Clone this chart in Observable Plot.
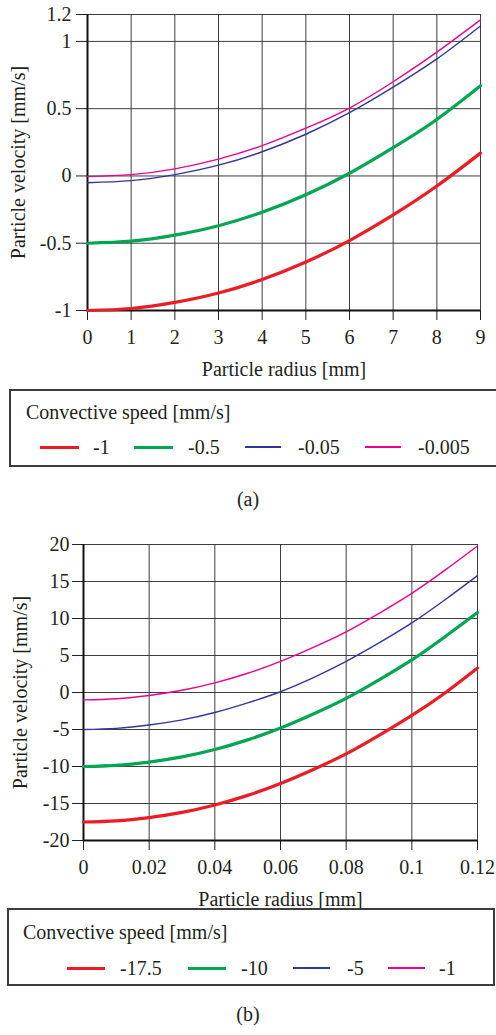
<!DOCTYPE html>
<html><head><meta charset="utf-8">
<script src="https://cdn.jsdelivr.net/npm/d3@7"></script>
<script src="https://cdn.jsdelivr.net/npm/@observablehq/plot@0.6"></script>
<style>
html,body{margin:0;padding:0;background:#fff;overflow:hidden;}
body{width:496px;height:1035px;position:relative;font-family:'Liberation Serif',serif;color:#231f20;}
.chart{position:absolute;left:0;}
.chart svg, .chart svg text{font-family:'Liberation Serif',serif !important;}
.legend{position:absolute;border:2px solid #3c3c3c;box-sizing:border-box;}
.t{position:absolute;font-family:'Liberation Serif',serif;font-size:20px;line-height:20px;white-space:nowrap;}
.sw{position:absolute;height:0;}
</style></head><body>
<script>
// ---------- data ----------
const legendTitle = "Convective speed [mm/s]";
const xLabel = "Particle radius [mm]";
const yLabel = "Particle velocity [mm/s]";

// panel (a)
const radiusA = [0, 1, 2, 3, 4, 5, 6, 7, 8, 9];
const seriesA = ["-1", "-0.5", "-0.05", "-0.005"];
const velA_1 = [-1, -0.985, -0.94, -0.87, -0.77, -0.64, -0.48, -0.29, -0.075, 0.17];
const velA_05 = [-0.5, -0.485, -0.44, -0.37, -0.27, -0.14, 0.02, 0.21, 0.42, 0.67];
const velA_005 = [-0.05, -0.035, 0.01, 0.08, 0.18, 0.31, 0.47, 0.66, 0.87, 1.115];
const velA_0005 = [-0.005, 0.01, 0.053, 0.125, 0.225, 0.355, 0.505, 0.70, 0.92, 1.16];
const xTicksA = [0, 1, 2, 3, 4, 5, 6, 7, 8, 9];
const yTicksA = [-1, -0.5, 0, 0.5, 1, 1.2];

// panel (b)
const radiusB = [0, 0.01, 0.02, 0.03, 0.04, 0.05, 0.06, 0.07, 0.08, 0.09, 0.1, 0.11, 0.12];
const seriesB = ["-17.5", "-10", "-5", "-1"];
const velB_175 = [-17.5, -17.35, -16.9, -16.2, -15.2, -13.9, -12.3, -10.4, -8.3, -5.8, -3.1, -0.1, 3.3];
const velB_10 = [-10, -9.85, -9.4, -8.7, -7.7, -6.4, -4.8, -2.9, -0.8, 1.7, 4.4, 7.5, 10.8];
const velB_5 = [-5, -4.85, -4.4, -3.7, -2.7, -1.4, 0.1, 2.0, 4.2, 6.7, 9.4, 12.5, 15.8];
const velB_1 = [-1, -0.85, -0.4, 0.3, 1.3, 2.6, 4.2, 6.1, 8.2, 10.7, 13.4, 16.5, 19.8];
const xTicksB = [0, 0.02, 0.04, 0.06, 0.08, 0.1, 0.12];
const yTicksB = [-20, -15, -10, -5, 0, 5, 10, 15, 20];

// ---------- styles ----------
const lineStyles = [
  {color: "#ed1c24", width: 3.2, legend: 3},
  {color: "#00a651", width: 3.2, legend: 3},
  {color: "#34359a", width: 1.4, legend: 2},
  {color: "#ec008c", width: 1.4, legend: 2}
];
const FONT = "'Liberation Serif', serif";
const fmt = d => String(d);

function makeChart(cfg) {
  const rows = cfg.series.flatMap((s, i) => cfg.xs.map((x, j) => ({series: s, x, y: cfg.values[i][j]})));
  const gridStyle = {stroke: "#2a2a2a", strokeOpacity: 0.9, strokeWidth: 1};
  const svg = Plot.plot({
    width: 496,
    height: cfg.height,
    marginTop: cfg.mt, marginBottom: cfg.mb, marginLeft: cfg.ml, marginRight: cfg.mr,
    style: {fontFamily: FONT, fontSize: "20px", color: "#231f20", background: "transparent"},
    x: {domain: cfg.xDomain},
    y: {domain: cfg.yDomain},
    marks: [
      Plot.gridX(cfg.xTicks, gridStyle),
      Plot.gridY(cfg.yTicks, gridStyle),
      Plot.axisX(cfg.xTicks, {tickSize: 10, tickPadding: 9, tickFormat: fmt, fontSize: 20,
        label: xLabel, labelAnchor: "center", labelArrow: "none", labelOffset: cfg.xLabelOffset}),
      Plot.axisY(cfg.yTicks, {tickSize: 11, tickPadding: cfg.yPad, tickFormat: fmt, fontSize: 20,
        label: yLabel, labelAnchor: "center", labelArrow: "none", labelOffset: cfg.yLabelOffset}),
      Plot.ruleX([cfg.xDomain[0]], {stroke: "#111", strokeWidth: 2}),
      Plot.ruleY([cfg.yDomain[0]], {stroke: "#111", strokeWidth: 2}),
      ...cfg.series.map((s, i) => Plot.line(rows.filter(d => d.series === s),
        {x: "x", y: "y", stroke: lineStyles[i].color, strokeWidth: lineStyles[i].width, curve: "natural"}))
    ]
  });
  svg.style.fontFamily = FONT;
  const wrap = document.createElement("div");
  wrap.className = "chart";
  wrap.style.top = cfg.top + "px";
  wrap.appendChild(svg);
  document.body.appendChild(wrap);
}

function textAt(str, x, baseline, anchor) {
  const el = document.createElement("div");
  el.className = "t";
  el.textContent = str;
  el.style.fontFamily = FONT;
  el.style.top = (baseline - 16.75) + "px";
  el.style.left = x + "px";
  if (anchor === "middle") el.style.transform = "translateX(-50%)";
  document.body.appendChild(el);
}

function makeLegend(names, L) {
  const box = document.createElement("div");
  box.className = "legend";
  Object.assign(box.style, {left: L.box[0] + "px", top: L.box[1] + "px", width: L.box[2] + "px", height: L.box[3] + "px"});
  document.body.appendChild(box);
  textAt(legendTitle, L.titleX, L.titleBase);
  names.forEach((n, i) => {
    const sw = document.createElement("div");
    sw.className = "sw";
    const w = lineStyles[i].legend;
    Object.assign(sw.style, {left: L.items[i][0] + "px", width: (L.items[i][1] - L.items[i][0]) + "px",
      top: Math.round(L.lineY - w / 2) + "px", borderTop: w + "px solid " + lineStyles[i].color});
    document.body.appendChild(sw);
    textAt(n, L.items[i][2], L.itemBase);
  });
}

// panel (a)
makeChart({top: 0, height: 380, mt: 14, mb: 70, ml: 87, mr: 16,
  xs: radiusA, series: seriesA, values: [velA_1, velA_05, velA_005, velA_0005],
  xDomain: [0, 9], yDomain: [-1, 1.2], xTicks: xTicksA, yTicks: yTicksA,
  yPad: 5, xLabelOffset: 65, yLabelOffset: 77});
makeLegend(seriesA, {box: [9, 389, 495, 78], titleX: 26, titleBase: 419, lineY: 447, itemBase: 454,
  items: [[40, 79, 93], [134, 173, 188], [245, 281, 298], [365, 401, 418]]});
textAt("(a)", 248, 506, "middle");

// panel (b)
makeChart({top: 530, height: 378, mt: 14, mb: 68, ml: 83, mr: 19,
  xs: radiusB, series: seriesB, values: [velB_175, velB_10, velB_5, velB_1],
  xDomain: [0, 0.12], yDomain: [-20, 20], xTicks: xTicksB, yTicks: yTicksB,
  yPad: 3, xLabelOffset: 65, yLabelOffset: 71});
makeLegend(seriesB, {box: [7, 908, 488, 78], titleX: 23, titleBase: 939, lineY: 968, itemBase: 975,
  items: [[67, 105, 120], [188, 226, 241], [293, 330, 347], [388, 425, 439]]});
textAt("(b)", 248, 1021, "middle");
</script>
</body></html>
